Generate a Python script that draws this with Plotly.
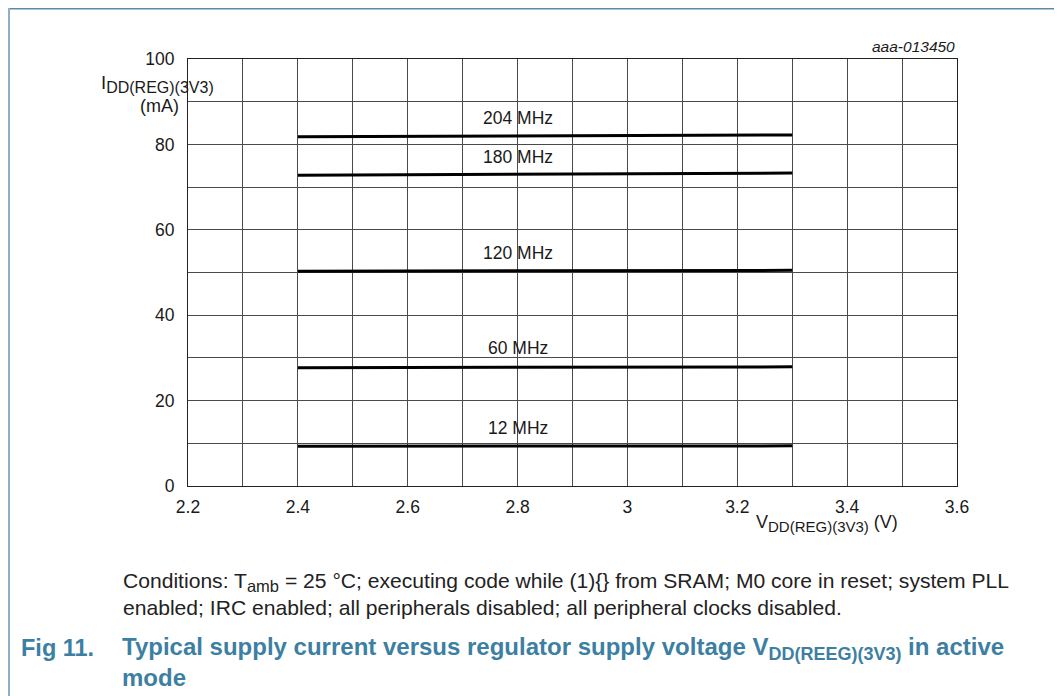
import plotly.graph_objects as go

# ---- data ----
voltage = [2.4, 3.3]
i_204 = [81.8, 82.2]
i_180 = [72.8, 73.3]
i_120 = [50.3, 50.5]
i_60 = [27.7, 27.9]
i_12 = [9.3, 9.4]
series_labels = ["204 MHz", "180 MHz", "120 MHz", "60 MHz", "12 MHz"]
label_y = [86.2, 77.1, 54.6, 32.3, 13.6]
label_x = 2.8
x_ticks = [2.2, 2.4, 2.6, 2.8, 3.0, 3.2, 3.4, 3.6]
x_tick_text = ["2.2", "2.4", "2.6", "2.8", "3", "3.2", "3.4", "3.6"]
y_ticks = [0, 20, 40, 60, 80, 100]

# page has an 8px body margin -> figure drawn at (8, 8)
OFF = 8
W, H = 1062 - 2 * OFF, 696 - OFF
L, R, T, B = 188, 957, 59, 486   # plot area in reference page pixels

def px(xp):
    return (xp - L) / (R - L)

def py(yp):
    return (B - yp) / (B - T)

FONT = "Liberation Sans, Arial, sans-serif"
TXT = "#1a1a1a"
fig = go.Figure()
for vals in [i_204, i_180, i_120, i_60, i_12]:
    fig.add_trace(go.Scatter(x=voltage, y=vals, mode="lines",
                             line=dict(color="black", width=3),
                             showlegend=False, hoverinfo="skip"))

annotations = []
for lab, ly in zip(series_labels, label_y):
    annotations.append(dict(x=label_x, y=ly, xref="x", yref="y", text=lab,
                            showarrow=False, xanchor="center", yanchor="middle",
                            font=dict(size=17.5, color=TXT, family=FONT)))

def sub(s, size):
    return "<sub><span style='font-size:%spx'>%s</span></sub>" % (size, s)

annotations += [
    dict(x=px(216), y=py(84), xref="paper", yref="paper",
         text="I" + sub("DD(REG)(3V3)", 16), showarrow=False,
         xanchor="right", yanchor="middle",
         font=dict(size=18.5, color=TXT, family=FONT)),
    dict(x=px(181), y=py(106), xref="paper", yref="paper",
         text="(mA)", showarrow=False, xanchor="right", yanchor="middle",
         font=dict(size=18, color=TXT, family=FONT)),
    dict(x=px(754), y=py(523), xref="paper", yref="paper",
         text="V" + sub("DD(REG)(3V3)", 15) + " (V)", showarrow=False,
         xanchor="left", yanchor="middle",
         font=dict(size=18, color=TXT, family=FONT)),
    dict(x=px(957), y=py(47), xref="paper", yref="paper",
         text="<i>aaa-013450</i>", showarrow=False,
         xanchor="right", yanchor="middle",
         font=dict(size=15.5, color=TXT, family=FONT)),
    dict(x=px(121), y=py(594), xref="paper", yref="paper",
         text="Conditions: T" + sub("amb", 16.5) + " = 25 °C; executing code while (1){} from SRAM; M0 core in reset; system PLL"
              "<br>enabled; IRC enabled; all peripherals disabled; all peripheral clocks disabled.",
         showarrow=False, xanchor="left", yanchor="middle", align="left",
         font=dict(size=21.1, color="#222", family=FONT)),
    dict(x=px(19), y=py(648), xref="paper", yref="paper",
         text="<b>Fig 11.</b>", showarrow=False, xanchor="left", yanchor="middle",
         font=dict(size=23.5, color="#3d7fa3", family=FONT)),
    dict(x=px(120), y=py(662), xref="paper", yref="paper",
         text="<b>Typical supply current versus regulator supply voltage V" + sub("DD(REEG)(3V3)", 18) + " in active"
              "<br>mode</b>",
         showarrow=False, xanchor="left", yanchor="middle", align="left",
         font=dict(size=24, color="#3d7fa3", family=FONT)),
]

shapes = [
    dict(type="line", xref="paper", yref="paper", x0=px(8), x1=px(1070), y0=py(8.5), y1=py(8.5),
         line=dict(color="#5a8aa8", width=2)),
    dict(type="line", xref="paper", yref="paper", x0=px(9), x1=px(9), y0=py(8), y1=py(700),
         line=dict(color="#8fb0c4", width=2)),
]

fig.update_layout(
    width=W, height=H,
    margin=dict(l=L - OFF, r=W - (R - OFF), t=T - OFF, b=H - (B - OFF)),
    paper_bgcolor="white", plot_bgcolor="white",
    annotations=annotations, shapes=shapes,
    font=dict(family=FONT, size=18, color=TXT),
    xaxis=dict(range=[2.2, 3.6], tickvals=x_ticks, ticktext=x_tick_text,
               showgrid=True, gridcolor="#4a4a4a", gridwidth=1,
               minor=dict(dtick=0.1, showgrid=True, gridcolor="#4a4a4a", gridwidth=1),
               showline=True, linecolor="#222", linewidth=1, mirror=True,
               ticks="", zeroline=False, ticklabelstandoff=5,
               tickfont=dict(size=17.5, color=TXT)),
    yaxis=dict(range=[0, 100], tickvals=y_ticks,
               showgrid=True, gridcolor="#4a4a4a", gridwidth=1,
               minor=dict(dtick=10, showgrid=True, gridcolor="#4a4a4a", gridwidth=1),
               showline=True, linecolor="#222", linewidth=1, mirror=True,
               ticks="", zeroline=False, ticklabelstandoff=9,
               tickfont=dict(size=17.5, color=TXT)),
)

fig.write_html("out.html")
